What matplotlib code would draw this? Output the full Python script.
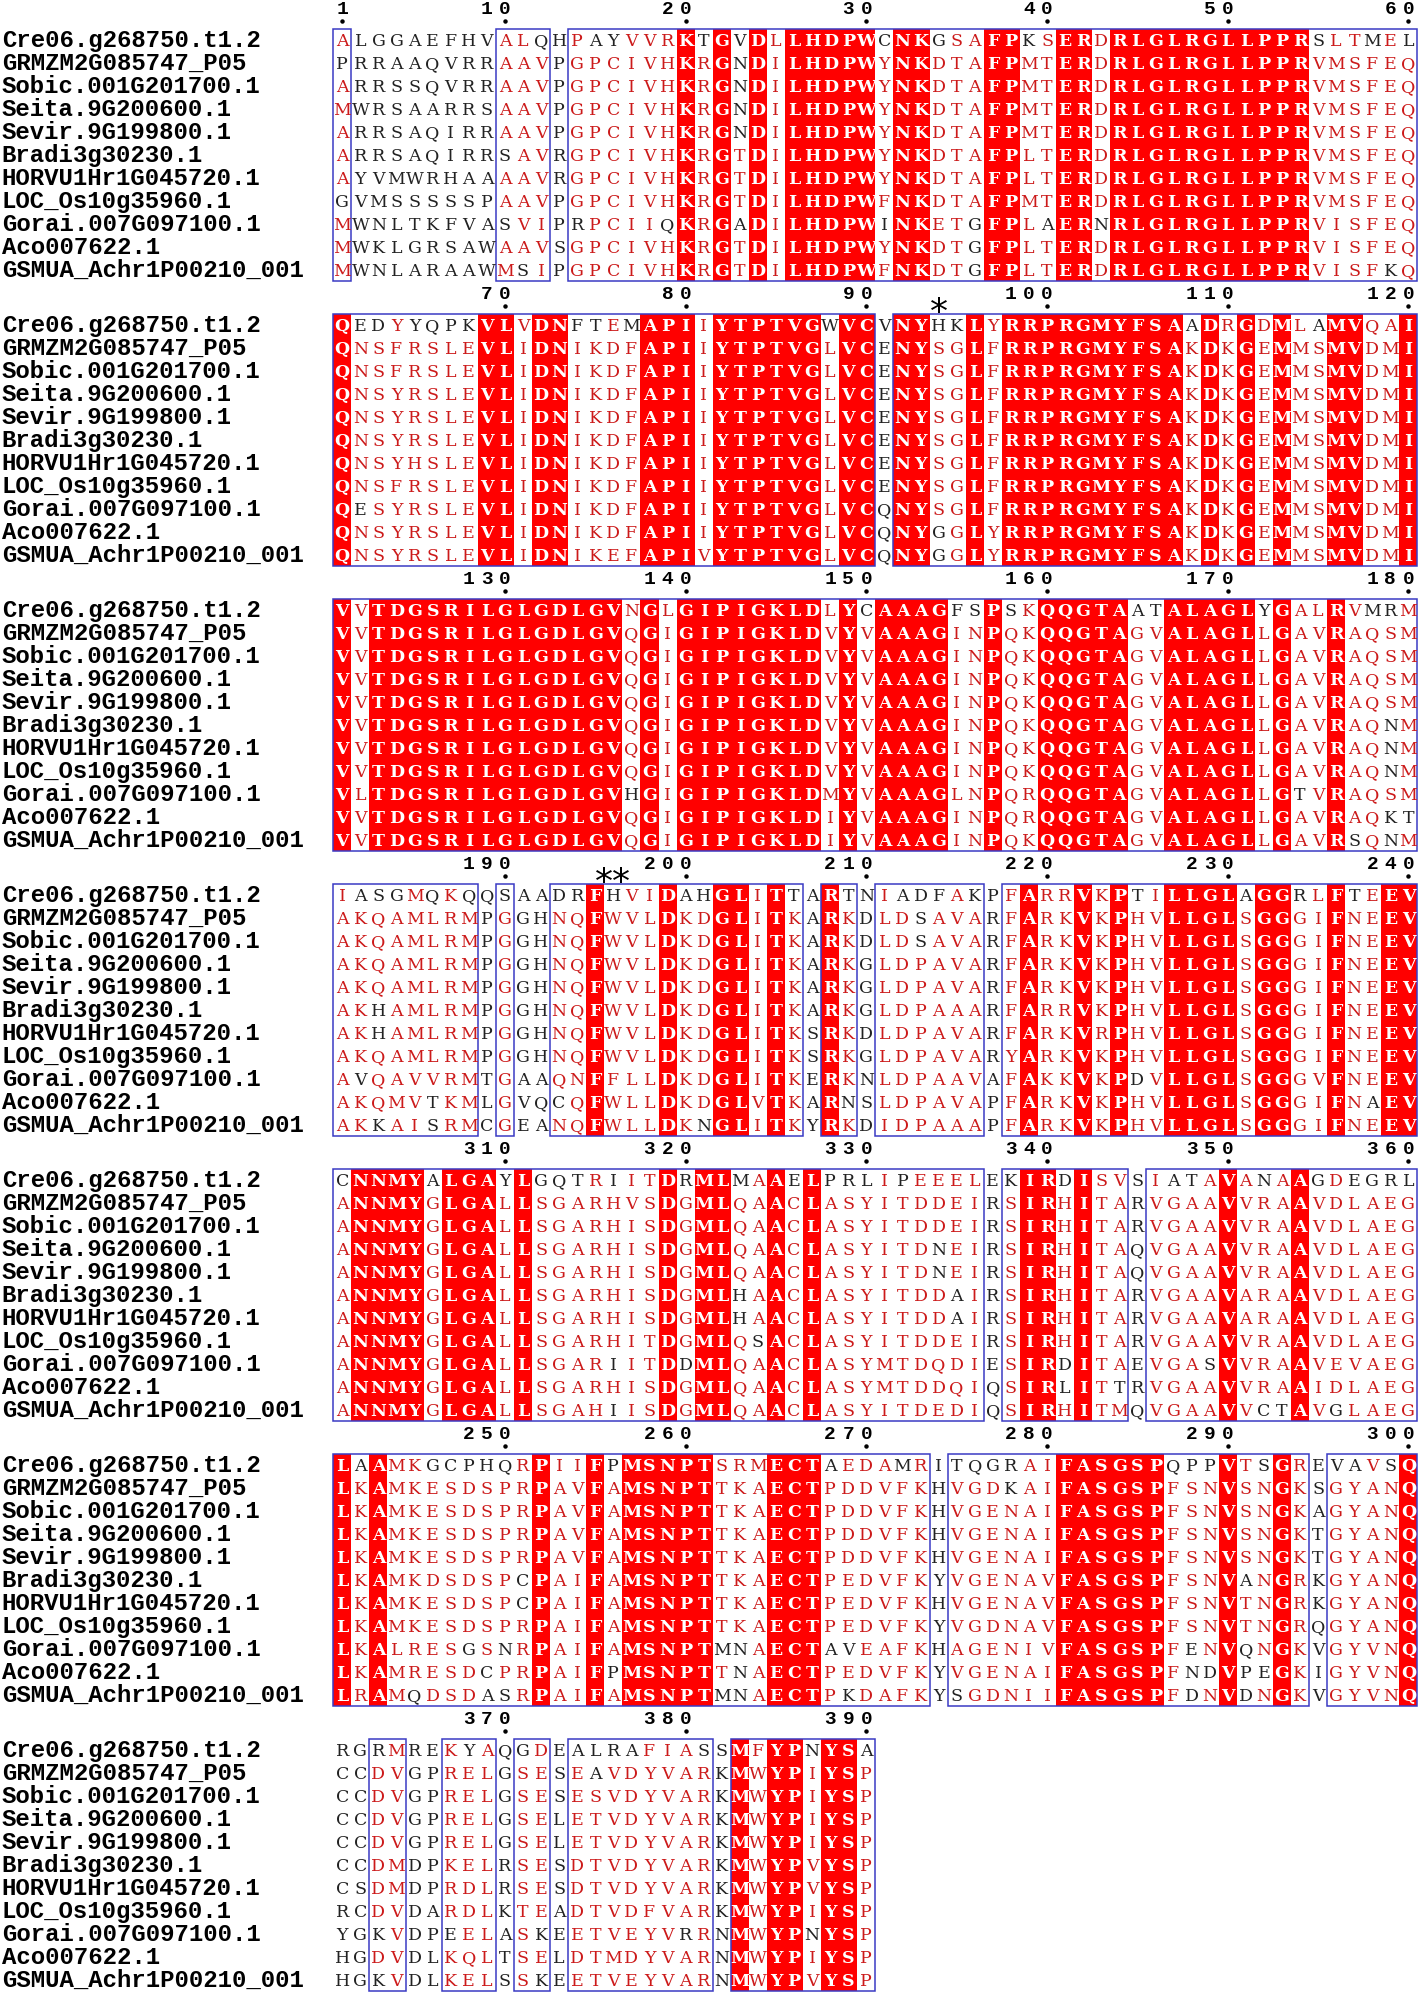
import matplotlib
matplotlib.use("Agg")
import matplotlib.pyplot as plt
from matplotlib.patches import Rectangle
from collections import Counter

names = [
    "Cre06.g268750.t1.2",
    "GRMZM2G085747_P05",
    "Sobic.001G201700.1",
    "Seita.9G200600.1",
    "Sevir.9G199800.1",
    "Bradi3g30230.1",
    "HORVU1Hr1G045720.1",
    "LOC_Os10g35960.1",
    "Gorai.007G097100.1",
    "Aco007622.1",
    "GSMUA_Achr1P00210_001",
]

# aligned sequences, columns 1-390
seqs = [
    ("ALGGAEFHVALQHPAYVVRKTGVDLLHDPWCNKGSAFPKSERDRLGLRGLLPPRSLTMEL"
     "QEDYYQPKVLVDNFTEMAPIIYTPTVGWVCVNYHKLYRRPRGMYFSAADRGDMLAMVQAI"
     "VVTDGSRILGLGDLGVNGLGIPIGKLDLYCAAAGFSPSKQQGTAATALAGLYGALRVMRM"
     "IASGMQKQQSAADRFHVIDAHGLITTARTNIADFAKPFARRVKPTILLGLAGGRLFTEEV"
     "LAAMKGCPHQRPIIFPMSNPTSRMECTAEDAMRITQGRAIFASGSPQPPVTSGREVAVSQ"
     "CNNMYALGAYLGQTRIITDRMLMAAELPRLIPEEELEKIRDISVSIATAVANAAGDEGRL"
     "RGRMREKYAQGDEALRAFIASSMFYPNYSA"),
    ("PRRAAQVRRAAVPGPCIVHKRGNDILHDPWYNKDTAFPMTERDRLGLRGLLPPRVMSFEQ"
     "QNSFRSLEVLIDNIKDFAPIIYTPTVGLVCENYSGLFRRPRGMYFSAKDKGEMMSMVDMI"
     "VVTDGSRILGLGDLGVQGIGIPIGKLDVYVAAAGINPQKQQGTAGVALAGLLGAVRAQSM"
     "AKQAMLRMPGGHNQFWVLDKDGLITKARKDLDSAVARFARKVKPHVLLGLSGGGIFNEEV"
     "LKAMKESDSPRPAVFAMSNPTTKAECTPDDVFKHVGDKAIFASGSPFSNVSNGKSGYANQ"
     "ANNMYGLGALLSGARHVSDGMLQAACLASYITDDEIRSIRHITARVGAAVVRAAVDLAEG"
     "CCDVGPRELGSESEAVDYVARKMWYPIYSP"),
    ("ARRSSQVRRAAVPGPCIVHKRGNDILHDPWYNKDTAFPMTERDRLGLRGLLPPRVMSFEQ"
     "QNSFRSLEVLIDNIKDFAPIIYTPTVGLVCENYSGLFRRPRGMYFSAKDKGEMMSMVDMI"
     "VVTDGSRILGLGDLGVQGIGIPIGKLDVYVAAAGINPQKQQGTAGVALAGLLGAVRAQSM"
     "AKQAMLRMPGGHNQFWVLDKDGLITKARKDLDSAVARFARKVKPHVLLGLSGGGIFNEEV"
     "LKAMKESDSPRPAVFAMSNPTTKAECTPDDVFKHVGENAIFASGSPFSNVSNGKAGYANQ"
     "ANNMYGLGALLSGARHISDGMLQAACLASYITDDEIRSIRHITARVGAAVVRAAVDLAEG"
     "CCDVGPRELGSESESVDYVARKMWYPIYSP"),
    ("MWRSAARRSAAVPGPCIVHKRGNDILHDPWYNKDTAFPMTERDRLGLRGLLPPRVMSFEQ"
     "QNSYRSLEVLIDNIKDFAPIIYTPTVGLVCENYSGLFRRPRGMYFSAKDKGEMMSMVDMI"
     "VVTDGSRILGLGDLGVQGIGIPIGKLDVYVAAAGINPQKQQGTAGVALAGLLGAVRAQSM"
     "AKQAMLRMPGGHNQFWVLDKDGLITKARKGLDPAVARFARKVKPHVLLGLSGGGIFNEEV"
     "LKAMKESDSPRPAVFAMSNPTTKAECTPDDVFKHVGENAIFASGSPFSNVSNGKTGYANQ"
     "ANNMYGLGALLSGARHISDGMLQAACLASYITDNEIRSIRHITAQVGAAVVRAAVDLAEG"
     "CCDVGPRELGSELETVDYVARKMWYPIYSP"),
    ("ARRSAQIRRAAVPGPCIVHKRGNDILHDPWYNKDTAFPMTERDRLGLRGLLPPRVMSFEQ"
     "QNSYRSLEVLIDNIKDFAPIIYTPTVGLVCENYSGLFRRPRGMYFSAKDKGEMMSMVDMI"
     "VVTDGSRILGLGDLGVQGIGIPIGKLDVYVAAAGINPQKQQGTAGVALAGLLGAVRAQSM"
     "AKQAMLRMPGGHNQFWVLDKDGLITKARKGLDPAVARFARKVKPHVLLGLSGGGIFNEEV"
     "LKAMKESDSPRPAVFAMSNPTTKAECTPDDVFKHVGENAIFASGSPFSNVSNGKTGYANQ"
     "ANNMYGLGALLSGARHISDGMLQAACLASYITDNEIRSIRHITAQVGAAVVRAAVDLAEG"
     "CCDVGPRELGSELETVDYVARKMWYPIYSP"),
    ("ARRSAQIRRSAVRGPCIVHKRGTDILHDPWYNKDTAFPLTERDRLGLRGLLPPRVMSFEQ"
     "QNSYRSLEVLIDNIKDFAPIIYTPTVGLVCENYSGLFRRPRGMYFSAKDKGEMMSMVDMI"
     "VVTDGSRILGLGDLGVQGIGIPIGKLDVYVAAAGINPQKQQGTAGVALAGLLGAVRAQNM"
     "AKHAMLRMPGGHNQFWVLDKDGLITKARKGLDPAAARFARRVKPHVLLGLSGGGIFNEEV"
     "LKAMKDSDSPCPAIFAMSNPTTKAECTPEDVFKYVGENAVFASGSPFSNVANGRKGYANQ"
     "ANNMYGLGALLSGARHISDGMLHAACLASYITDDAIRSIRHITARVGAAVARAAVDLAEG"
     "CCDMDPKELRSESDTVDYVARKMWYPVYSP"),
    ("AYVMWRHAAAAVRGPCIVHKRGTDILHDPWYNKDTAFPLTERDRLGLRGLLPPRVMSFEQ"
     "QNSYHSLEVLIDNIKDFAPIIYTPTVGLVCENYSGLFRRPRGMYFSAKDKGEMMSMVDMI"
     "VVTDGSRILGLGDLGVQGIGIPIGKLDVYVAAAGINPQKQQGTAGVALAGLLGAVRAQNM"
     "AKHAMLRMPGGHNQFWVLDKDGLITKSRKDLDPAVARFARKVRPHVLLGLSGGGIFNEEV"
     "LKAMKESDSPCPAIFAMSNPTTKAECTPEDVFKHVGENAVFASGSPFSNVTNGRKGYANQ"
     "ANNMYGLGALLSGARHISDGMLHAACLASYITDDAIRSIRHITARVGAAVARAAVDLAEG"
     "CSDMDPRDLRSESDTVDYVARKMWYPVYSP"),
    ("GVMSSSSSPAAVPGPCIVHKRGTDILHDPWFNKDTAFPMTERDRLGLRGLLPPRVMSFEQ"
     "QNSFRSLEVLIDNIKDFAPIIYTPTVGLVCENYSGLFRRPRGMYFSAKDKGEMMSMVDMI"
     "VVTDGSRILGLGDLGVQGIGIPIGKLDVYVAAAGINPQKQQGTAGVALAGLLGAVRAQNM"
     "AKQAMLRMPGGHNQFWVLDKDGLITKSRKGLDPAVARYARKVKPHVLLGLSGGGIFNEEV"
     "LKAMKESDSPRPAIFAMSNPTTKAECTPEDVFKYVGDNAVFASGSPFSNVTNGRQGYANQ"
     "ANNMYGLGALLSGARHITDGMLQSACLASYITDDEIRSIRHITARVGAAVVRAAVDLAEG"
     "RCDVDARDLKTEADTVDFVARKMWYPIYSP"),
    ("MWNLTKFVASVIPRPCIIQKRGADILHDPWINKETGFPLAERNRLGLRGLLPPRVISFEQ"
     "QESYRSLEVLIDNIKDFAPIIYTPTVGLVCQNYSGLFRRPRGMYFSAKDKGEMMSMVDMI"
     "VLTDGSRILGLGDLGVHGIGIPIGKLDMYVAAAGLNPQRQQGTAGVALAGLLGTVRAQSM"
     "AVQAVVRMTGAAQNFFLLDKDGLITKERKNLDPAAVAFAKKVKPDVLLGLSGGGVFNEEV"
     "LKALRESGSNRPAIFAMSNPTMNAECTAVEAFKHAGENIVFASGSPFENVQNGKVGYVNQ"
     "ANNMYGLGALLSGARIITDDMLQAACLASYMTDQDIESIRDITAEVGASVVRAAVEVAEG"
     "YGKVDPEELASKEETVEYVRRNMWYPNYSP"),
    ("MWKLGRSAWAAVSGPCIVHKRGTDILHDPWYNKDTGFPLTERDRLGLRGLLPPRVISFEQ"
     "QNSYRSLEVLIDNIKDFAPIIYTPTVGLVCQNYGGLYRRPRGMYFSAKDKGEMMSMVDMI"
     "VVTDGSRILGLGDLGVQGIGIPIGKLDIYVAAAGINPQRQQGTAGVALAGLLGAVRAQKT"
     "AKQMVTKMLGVQCQFWLLDKDGLVTKARNSLDPAVAPFARKVKPHVLLGLSGGGIFNAEV"
     "LKAMRESDCPRPAIFPMSNPTTNAECTPEDVFKYVGENAIFASGSPFNDVPEGKIGYVNQ"
     "ANNMYGLGALLSGARHISDGMLQAACLASYMTDDQIQSIRLITTRVGAAVVRAAIDLAEG"
     "HGDVDLKQLTSELDTMDYVARNMWYPIYSP"),
    ("MWNLARAAWMSIPGPCIVHKRGTDILHDPWFNKDTGFPLTERDRLGLRGLLPPRVISFKQ"
     "QNSYRSLEVLIDNIKEFAPIVYTPTVGLVCQNYGGLYRRPRGMYFSAKDKGEMMSMVDMI"
     "VVTDGSRILGLGDLGVQGIGIPIGKLDIYVAAAGINPQKQQGTAGVALAGLLGAVRSQNM"
     "AKKAISRMCGEANQFWLLDKNGLITKYRKDIDPAAAPFARKVKPHVLLGLSGGGIFNEEV"
     "LRAMQDSDASRPAIFAMSNPTMNAECTPKDAFKYSGDNIIFASGSPFDNVDNGKVGYVNQ"
     "ANNMYGLGALLSGAHIISDGMLQAACLASYITDEDIQSIRHITMQVGAAVVCTAVGLAEG"
     "HGKVDLKELSSKEETVEYVARNMWYPVYSP"),
]

# first column of each printed block, in the order they appear on the page
block_starts = [1, 61, 121, 181, 301, 241, 361]
block_len = 60

# framed (similar) column ranges
boxes = [(1, 1), (10, 12), (14, 90), (92, 188), (190, 190), (193, 206),
         (208, 209), (211, 216), (218, 273), (275, 294), (296, 336),
         (338, 344), (346, 360), (363, 364), (367, 369), (371, 372),
         (374, 381), (383, 390)]

stars = [(94, "*"), (196, "**")]

similar = ["ILVMA", "FYW", "KRH", "DEQ", "NQ", "ST", "GP"]

RED = "#ff0000"
RED_TXT = "#cc1a1a"
BLK_TXT = "#222222"
BOX_C = "#3a3ac4"
MONO = "Liberation Mono"
RES_FONT = "DejaVu Serif"

W, H = 1418, 1995
BLOCK_PX = 285.0
ROW_PX = 22.95
COL_PX = 18.07
X0, Y0 = 342.3, 40.5

nseq = len(seqs)
seq_len = len(seqs[0])


def boxed(c):
    return any(a <= c <= b for a, b in boxes)


def is_similar(r, cons):
    return r == cons or any(r in g and cons in g for g in similar)


fig = plt.figure(figsize=(W / 100, H / 100), dpi=100)

for bi, start in enumerate(block_starts):
    end = min(start + block_len - 1, seq_len)
    ax = fig.add_axes([0, 1 - (bi + 1) * BLOCK_PX / H, 1, BLOCK_PX / H])
    ax.set_xlim(-X0 / COL_PX, (W - X0) / COL_PX)
    ax.set_ylim((BLOCK_PX - Y0) / ROW_PX, -Y0 / ROW_PX)
    ax.axis("off")

    cols = list(range(start, end + 1))
    ident = [len(set(s[c - 1] for s in seqs)) == 1 for c in cols]

    # red fill for strictly conserved columns (merged runs)
    i = 0
    while i < len(cols):
        if ident[i]:
            j = i
            while j + 1 < len(cols) and ident[j + 1]:
                j += 1
            ax.add_patch(Rectangle((i - 0.5, -0.5), j - i + 1, nseq,
                                   facecolor=RED, edgecolor="none", zorder=1))
            i = j + 1
        else:
            i += 1

    # blue frames
    for a, b in boxes:
        a2, b2 = max(a, start), min(b, end)
        if a2 > b2:
            continue
        ax.add_patch(Rectangle((a2 - start - 0.5, -0.5), b2 - a2 + 1, nseq,
                               fill=False, edgecolor=BOX_C, lw=1.1, zorder=2))

    # residues
    for k, c in enumerate(cols):
        column = [s[c - 1] for s in seqs]
        cons = Counter(column).most_common(1)[0][0]
        inbox = boxed(c)
        for r, ch in enumerate(column):
            if ident[k]:
                color, weight = "white", "bold"
            elif inbox and is_similar(ch, cons):
                color, weight = RED_TXT, "normal"
            else:
                color, weight = BLK_TXT, "normal"
            ax.text(k, r + 0.26, ch, ha="center", va="baseline", fontsize=12.5,
                    family=RES_FONT, color=color, weight=weight, zorder=3)

    # sequence names
    for r, nm in enumerate(names):
        ax.text(-X0 / COL_PX + 0.1, r + 0.29, nm, ha="left", va="baseline",
                fontsize=17.3, family=MONO, weight="bold", color="black")

    # numbering
    for k, c in enumerate(cols):
        if c == 1 or c % 10 == 0:
            for d, digit in enumerate(reversed(str(c))):
                ax.text(k - d, -1.17, digit, ha="center", va="baseline",
                        fontsize=14, family=MONO, weight="bold", color="black")
            ax.plot(k, -0.86, marker="o", ms=2.2, color="black", zorder=3)

    for c, mark in stars:
        if start <= c <= end:
            ax.text(c - start, -0.09, mark, ha="center", va="baseline",
                    fontsize=26, family="DejaVu Sans", color="black")

fig.savefig("out.png", dpi=100)
